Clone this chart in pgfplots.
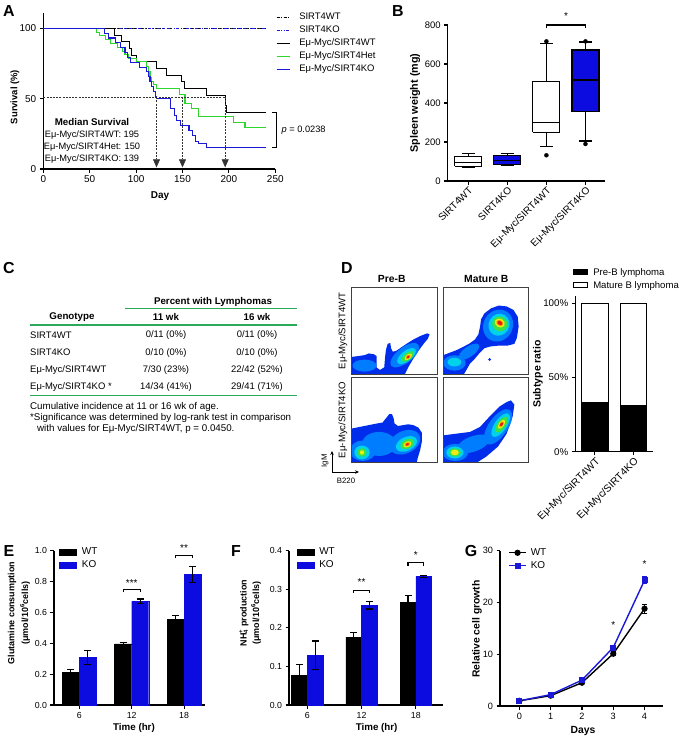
\documentclass[border=0pt]{standalone}
\usepackage{fontspec}
\setmainfont{Liberation Sans}
\usepackage{pgfplots}
\pgfplotsset{compat=1.18}
\usetikzlibrary{arrows.meta}
\definecolor{kob}{RGB}{12,12,225}
\definecolor{kol}{RGB}{25,25,215}
\definecolor{hetg}{RGB}{45,215,45}
\definecolor{tgreen}{RGB}{40,170,90}
\definecolor{c1}{RGB}{0,45,235}
\definecolor{c2}{RGB}{0,125,255}
\definecolor{c3}{RGB}{0,210,235}
\definecolor{c4}{RGB}{60,225,70}
\definecolor{c5}{RGB}{240,235,20}
\definecolor{c6}{RGB}{250,140,0}
\definecolor{c7}{RGB}{230,25,20}
\newcommand\fz[1]{\fontsize{#1}{#1}\selectfont}
\newcommand\fs{\fz{9}}
\newcommand\pl{\fontsize{16}{16}\selectfont\bfseries}
\newcommand\blob[5]{\fill[#1] (axis cs:#2) ellipse [x radius=#3bp, y radius=#4bp, rotate=#5];}
\pgfplotsset{
 gp/.style={scale only axis, axis x line*=bottom, axis y line*=left, tick align=outside,
   major tick length=3.5bp, axis line style={line width=1.1bp, black},
   tick style={line width=1.1bp, black}, tick label style={font=\fs},
   /pgf/number format/assume math mode=true, anchor=south west, clip=false},
 flow/.style={scale only axis, width=85.6bp, xmin=0, xmax=100, ymin=0, ymax=100,
   xtick=\empty, ytick=\empty, axis line style={line width=1.1bp, black!75},
   anchor=south west, axis on top, clip=true},
 bleg/.style={legend style={draw=none, fill=none, inner sep=0pt, font=\fz{10}, row sep=1.5bp,
   nodes={inner sep=1bp, text height=7.5bp, text depth=2bp},
   /tikz/every odd column/.append style={column sep=4bp}}, legend cell align=left,
   legend image code/.code={\draw[##1] (0bp,-2.8bp) rectangle (17bp,2.8bp);}},
 bx/.style={line width=1.1bp, black, forget plot},
}
\begin{document}
\begin{tikzpicture}
\useasboundingbox (0bp,0bp) rectangle (683bp,-739bp);

% ---------------- A
\begin{axis}[gp, at={(43.3bp,-169bp)}, width=232bp, height=156bp,
  tick label style={font=\fz{10}},
  xmin=0, xmax=250, ymin=0, ymax=110.9, xtick={0,50,...,250}, ytick={0,50,100},
  legend style={at={(1.003,1.01)}, anchor=north west, draw=none, fill=none, inner sep=0pt,
   font=\fz{9.5}, row sep=2bp, nodes={inner sep=1bp, text height=7bp, text depth=2bp},
   /tikz/every odd column/.append style={column sep=8bp}},
  legend cell align=left,
  legend image code/.code={\draw[#1] (0bp,0bp) -- (13bp,0bp);}]
\addplot[black, line width=1.1bp, dash pattern=on 3bp off 1.5bp on 1bp off 1.5bp] coordinates {(0,100) (240,100)};
\addlegendentry{SIRT4WT}
\addplot[kol, line width=1.1bp, dash pattern=on 3bp off 1.5bp on 1bp off 1.5bp on 1bp off 1.5bp] coordinates {(0,100) (240,100)};
\addlegendentry{SIRT4KO}
\addplot[black, line width=1.1bp, const plot] coordinates {(0,100) (77,95.2) (84,90.5) (93,85.7) (95,81) (100.5,76.2) (122,71.4) (133,66.7) (149,61.9) (152,57.1) (176,52.4) (196,45.2) (197.5,40) (240,40)};
\addlegendentry{Eμ-Myc/SIRT4WT}
\addplot[hetg, line width=1.1bp, const plot] coordinates {(0,100) (57.5,97.3) (61,94.6) (67,91.9) (72,89.2) (80,86.5) (85,83.8) (88,81.1) (92,78.4) (100,76.4) (111,72.8) (113,69.3) (115,65.2) (117,62.2) (119,59.8) (122,57.4) (147,52.7) (152.7,46.8) (159.8,43) (167,37.2) (204.7,33) (217.3,29.8) (240,29.8)};
\addlegendentry{Eμ-Myc/SIRT4Het}
\addplot[kol, line width=1.1bp, const plot] coordinates {(0,100) (66,96.6) (70,93.1) (78,89.7) (83,86.2) (88,82.8) (91,79.3) (94,75.9) (104,72.4) (111,69) (113,65.5) (115,62.1) (117,58.6) (119,55.2) (121,51.7) (122,50) (137,43.1) (141,37.9) (144,34.5) (148,31) (157,27.6) (161,24.1) (164,19.5) (167,18.4) (176,15) (240,15)};
\addlegendentry{Eμ-Myc/SIRT4KO}
\addplot[black!80, line width=0.5bp, dash pattern=on 2bp off 1.2bp, forget plot] coordinates {(0,51) (196,51)};
\addplot[black!80, line width=0.5bp, dash pattern=on 2bp off 1.2bp, -{Triangle[width=7bp,length=8bp]}, forget plot] coordinates {(122,51) (122,1.2)};
\addplot[black!80, line width=0.5bp, dash pattern=on 2bp off 1.2bp, -{Triangle[width=7bp,length=8bp]}, forget plot] coordinates {(150,51) (150,1.2)};
\addplot[black!80, line width=0.5bp, dash pattern=on 2bp off 1.2bp, -{Triangle[width=7bp,length=8bp]}, forget plot] coordinates {(196,51) (196,1.2)};
\draw[line width=1.1bp] (axis cs:246,40) -- (axis cs:251.5,40) -- (axis cs:251.5,15) -- (axis cs:246,15);
\node[anchor=west, font=\fz{9.3}] at (axis cs:253,27.7) {\textit{p} = 0.0238};
\node[font=\fz{9.8}\bfseries] at (axis cs:52.5,33.4) {Median Survival};
\node[font=\fz{9.3}] at (axis cs:52.5,24.2) {Eμ-Myc/SIRT4WT: 195};
\node[font=\fz{9.3}] at (axis cs:52.5,15.6) {Eμ-Myc/SIRT4Het: 150};
\node[font=\fz{9.3}] at (axis cs:52.5,7.1) {Eμ-Myc/SIRT4KO: 139};
\end{axis}

% ---------------- B
\begin{axis}[gp, at={(447.7bp,-181bp)}, width=157.3bp, height=156bp,
  tick label style={font=\fz{9.5}},
  xmin=-0.526, xmax=3.5, ymin=0, ymax=800, ytick={0,200,...,800},
  xtick={0,1,2,3}, xticklabels={SIRT4WT,SIRT4KO,Eμ-Myc/SIRT4WT,Eμ-Myc/SIRT4KO},
  x tick label style={rotate=45, anchor=north east, inner sep=1bp, font=\fz{10}}]
\addplot[bx] coordinates {(0,127) (0,139)};
\addplot[bx] coordinates {(0,76) (0,70)};
\addplot[bx] coordinates {(-0.17,139) (0.17,139)};
\addplot[bx] coordinates {(-0.17,70) (0.17,70)};
\addplot[bx, fill=white] coordinates {(-0.345,76) (0.345,76) (0.345,127) (-0.345,127) (-0.345,76)};
\addplot[bx] coordinates {(-0.345,93) (0.345,93)};
\addplot[bx] coordinates {(1,131) (1,139)};
\addplot[bx] coordinates {(1,84) (1,80)};
\addplot[bx] coordinates {(0.83,139) (1.17,139)};
\addplot[bx] coordinates {(0.83,80) (1.17,80)};
\addplot[bx, fill=kob] coordinates {(0.655,84) (1.345,84) (1.345,131) (0.655,131) (0.655,84)};
\addplot[bx] coordinates {(0.655,107) (1.345,107)};
\addplot[bx] coordinates {(2,511) (2,706)};
\addplot[bx] coordinates {(2,250) (2,179)};
\addplot[bx] coordinates {(1.83,706) (2.17,706)};
\addplot[bx] coordinates {(1.83,179) (2.17,179)};
\addplot[bx, fill=white] coordinates {(1.655,250) (2.345,250) (2.345,511) (1.655,511) (1.655,250)};
\addplot[bx] coordinates {(1.655,299) (2.345,299)};
\addplot[bx] coordinates {(3,672) (3,713)};
\addplot[bx] coordinates {(3,356) (3,205)};
\addplot[bx] coordinates {(2.83,713) (3.17,713)};
\addplot[bx] coordinates {(2.83,205) (3.17,205)};
\addplot[bx, fill=kob] coordinates {(2.655,356) (3.345,356) (3.345,672) (2.655,672) (2.655,356)};
\addplot[bx] coordinates {(2.655,518) (3.345,518)};
\addplot[only marks, mark=*, mark size=2bp, black] coordinates {(2,716) (2,132) (3,716) (3,190)};
\draw[line width=1.1bp] (axis cs:2,783) -- (axis cs:2,800) -- (axis cs:3,800) -- (axis cs:3,783);
\node[font=\fz{10}] at (axis cs:2.5,845) {*};
\end{axis}

% ---------------- D flow plots
\begin{axis}[flow, at={(351.7bp,-374.3bp)}, height=87bp]
\addplot[fill=c1, draw=none] coordinates {(0,0) (0,20) (8,21) (15,22) (20,24) (26,23) (29,21) (29,8) (33,5) (38,8) (39,20) (40,28) (42,35) (45,36) (46,30) (48,26) (52,27) (58,31) (64,35) (72,40) (80,44) (88,47) (91,46) (89,41) (84,35) (78,27) (72,18) (66,8) (62,0)};
\blob{c2}{15,10}{12}{6}{0}
\blob{c2}{62,22}{17.2}{7.7}{38}
\blob{c3}{64,21}{11.2}{5.2}{38}
\blob{c4}{65.5,20.5}{7.3}{3.6}{38}
\blob{c5}{66,20}{4.3}{2.4}{38}
\blob{c6}{66,20}{2.6}{1.7}{38}
\blob{c7}{66,20}{1.6}{1.1}{38}
\end{axis}
\begin{axis}[flow, at={(443.3bp,-374.3bp)}, height=87bp]
\addplot[fill=c1, draw=none] coordinates {(0,0) (0,22) (8,25) (16,28) (24,32) (30,35) (37,40) (41,46) (43,55) (44,63) (48,70) (56,76) (65,79) (74,78) (82,74) (87,66) (88,55) (86,42) (83,35) (75,33) (65,33) (55,32) (48,30) (42,24) (36,17) (31,12) (27,5) (24,0)};
\blob{c1}{54,17}{1.5}{1.5}{0}
\blob{c2}{13,13}{11.2}{7.7}{0}
\blob{c3}{13,14}{6.9}{4.3}{0}
\blob{c2}{30,26}{12}{5.2}{35}
\blob{c2}{64,56}{16.3}{14.6}{60}
\blob{c3}{65,57}{11.2}{10.3}{60}
\blob{c4}{66,58}{7.3}{7.7}{60}
\blob{c5}{66,59}{4.3}{5.2}{60}
\blob{c6}{66,59}{2.8}{3.6}{60}
\blob{c7}{66,59}{1.8}{2.6}{60}
\end{axis}
\begin{axis}[flow, at={(351.7bp,-462.7bp)}, height=85.4bp]
\addplot[fill=c1, draw=none] coordinates {(0,0) (0,40) (10,42) (20,44) (30,46) (36,47) (40,52) (44,57) (47,57) (49,52) (50,46) (54,43) (60,44) (66,45) (72,44) (78,41) (82,35) (82,25) (80,15) (77,5) (76,0)};
\blob{c2}{32,22}{17}{12}{0}
\blob{c2}{13,14}{12.9}{10.3}{0}
\blob{c3}{12,12}{7.7}{6.9}{0}
\blob{c4}{12,12}{4.7}{4.3}{0}
\blob{c5}{12,12}{2.2}{2.2}{0}
\blob{c2}{62,24}{16.3}{11.2}{25}
\blob{c3}{64,22}{11.2}{6.9}{25}
\blob{c4}{65,22}{7.3}{4.5}{25}
\blob{c5}{65,21.5}{4.3}{2.8}{25}
\blob{c6}{65,21.5}{2.8}{1.9}{25}
\blob{c7}{65,21.5}{1.8}{1.3}{25}
\end{axis}
\begin{axis}[flow, at={(443.3bp,-462.7bp)}, height=85.4bp]
\addplot[fill=c1, draw=none] coordinates {(0,0) (0,32) (15,34) (31,36) (43,42) (54,54) (66,66) (74,71) (79,73) (83,68) (81,54) (74,34) (64,19) (50,7) (39,0)};
\blob{c2}{35,22}{17}{7.7}{20}
\blob{c2}{14,12}{12.9}{8.6}{0}
\blob{c3}{13.5,12}{8.6}{6}{0}
\blob{c4}{13.5,12}{6}{4.1}{0}
\blob{c5}{13.5,12}{3.9}{2.8}{0}
\blob{c2}{64,42}{20.6}{9.5}{55}
\blob{c3}{67,44}{13.8}{6}{55}
\blob{c4}{68,44.5}{9}{4.1}{55}
\blob{c5}{68,45}{5.2}{2.6}{55}
\blob{c6}{68,45}{3.2}{1.8}{55}
\blob{c7}{68,45}{2}{1.2}{55}
\end{axis}

% ---------------- D subtype bars
\begin{axis}[gp, at={(575.3bp,-451.7bp)}, width=77.7bp, height=155.8bp,
  tick label style={font=\fz{9.8}},
  xmin=-0.51, xmax=1.51, ymin=0, ymax=105, ytick={0,50,100}, yticklabels={0\%,50\%,100\%},
  xtick={0,1}, xticklabels={Eμ-Myc/SIRT4WT,Eμ-Myc/SIRT4KO},
  x tick label style={rotate=45, anchor=north east, inner sep=1bp, font=\fz{10.3}},
  ybar stacked, bar width=0.69, bleg,
  legend style={at={(-0.03,1.19)}, anchor=north west, font=\fz{9.6}},
  legend image code/.code={\draw[#1] (0bp,-2.6bp) rectangle (14bp,2.6bp);}]
\addplot[fill=black, draw=black, line width=1.1bp] coordinates {(0,33.3) (1,31.2)};
\addlegendentry{Pre-B lymphoma}
\addplot[fill=white, draw=black, line width=1.1bp] coordinates {(0,66.7) (1,68.8)};
\addlegendentry{Mature B lymphoma}
\end{axis}

% ---------------- E
\begin{axis}[gp, at={(54bp,-705bp)}, width=151bp, height=154.3bp,
  tick label style={font=\fz{8.8}},
  xmin=-0.484, xmax=2.40, ymin=0, ymax=1, ytick={0,0.2,0.4,0.6,0.8,1.0},
  yticklabel style={/pgf/number format/.cd, fixed, fixed zerofill, precision=1},
  xtick={0,1,2}, xticklabels={6,12,18}, ybar, bar width=0.325, bar shift=0pt,
  bleg, legend style={at={(0.035,1.03)}, anchor=north west},
  error bars/y dir=both, error bars/y explicit,
  error bars/error bar style={line width=1.1bp, black},
  error bars/error mark options={rotate=90, mark size=3.5bp, line width=1.1bp, black}]
\addplot[fill=black, draw=black] coordinates {(-0.1625,0.21) +- (0,0.022) (0.8375,0.396) +- (0,0.012) (1.8375,0.557) +- (0,0.022)};
\addlegendentry{WT}
\addplot[fill=kob, draw=kob] coordinates {(0.1625,0.31) +- (0,0.045) (1.1625,0.672) +- (0,0.015) (2.1625,0.845) +- (0,0.05)};
\addlegendentry{KO}
\draw[line width=1.1bp] (axis cs:0.8375,0.73) -- (axis cs:0.8375,0.75) -- (axis cs:1.1625,0.75) -- (axis cs:1.1625,0.73);
\node[font=\fz{10}] at (axis cs:1,0.79) {***};
\draw[line width=1.1bp] (axis cs:1.8375,0.95) -- (axis cs:1.8375,0.97) -- (axis cs:2.1625,0.97) -- (axis cs:2.1625,0.95);
\node[font=\fz{10}] at (axis cs:2,1.02) {**};
\end{axis}

% ---------------- F
\begin{axis}[gp, at={(289bp,-705bp)}, width=154bp, height=154.3bp,
  tick label style={font=\fz{8.8}},
  xmin=-0.338, xmax=2.50, ymin=0, ymax=0.4, ytick={0,0.1,0.2,0.3,0.4},
  yticklabel style={/pgf/number format/.cd, fixed, fixed zerofill, precision=1},
  xtick={0,1,2}, xticklabels={6,12,18}, ybar, bar width=0.29, bar shift=0pt,
  bleg, legend style={at={(0.05,1.03)}, anchor=north west},
  error bars/y dir=both, error bars/y explicit,
  error bars/error bar style={line width=1.1bp, black},
  error bars/error mark options={rotate=90, mark size=3.5bp, line width=1.1bp, black}]
\addplot[fill=black, draw=black] coordinates {(-0.145,0.076) +- (0,0.03) (0.855,0.176) +- (0,0.013) (1.855,0.266) +- (0,0.018)};
\addlegendentry{WT}
\addplot[fill=kob, draw=kob] coordinates {(0.145,0.129) +- (0,0.037) (1.145,0.259) +- (0,0.01) (2.145,0.333) +- (0,0.003)};
\addlegendentry{KO}
\draw[line width=1.1bp] (axis cs:0.855,0.29) -- (axis cs:0.855,0.298) -- (axis cs:1.145,0.298) -- (axis cs:1.145,0.29);
\node[font=\fz{10}] at (axis cs:1,0.318) {**};
\draw[line width=1.1bp] (axis cs:1.855,0.361) -- (axis cs:1.855,0.369) -- (axis cs:2.145,0.369) -- (axis cs:2.145,0.361);
\node[font=\fz{10}] at (axis cs:2,0.389) {*};
\end{axis}

% ---------------- G
\begin{axis}[gp, at={(500bp,-706bp)}, width=163.3bp, height=155.3bp,
  tick label style={font=\fz{9.2}},
  xmin=-0.62, xmax=4.6, ymin=0, ymax=30, xtick={0,1,2,3,4}, ytick={0,10,20,30},
  legend style={at={(0.05,1.025)}, anchor=north west, draw=none, fill=none, inner sep=0pt,
   font=\fz{10}, row sep=1.5bp, nodes={inner sep=1bp, text height=7.5bp, text depth=2bp},
   /tikz/every odd column/.append style={column sep=3bp}},
  legend cell align=left,
  legend image code/.code={\draw[mark repeat=2, mark phase=2, #1] plot coordinates {(0bp,0bp) (8.5bp,0bp) (17bp,0bp)};},
  error bars/y dir=both, error bars/y explicit,
  error bars/error bar style={line width=1bp},
  error bars/error mark options={rotate=90, mark size=2.5bp, line width=1bp}]
\addplot[black, line width=1.4bp, mark=*, mark size=2.4bp] coordinates {(0,1) +- (0,0.1) (1,2.0) +- (0,0.2) (2,4.5) +- (0,0.25) (3,10.1) +- (0,0.35) (4,18.8) +- (0,0.9)};
\addlegendentry{WT}
\addplot[kol, line width=1.4bp, mark=square*, mark size=2.3bp] coordinates {(0,1) +- (0,0.1) (1,2.2) +- (0,0.2) (2,5.0) +- (0,0.25) (3,11.3) +- (0,0.35) (4,24.3) +- (0,0.7)};
\addlegendentry{KO}
\node[font=\fz{10}] at (axis cs:3,15.6) {*};
\node[font=\fz{10}] at (axis cs:4,27.5) {*};
\end{axis}

% ---------------- text
\begin{scope}[x=1bp,y=-1bp]
\node[font=\pl] at (9,11) {A};
\node[font=\pl] at (398,11) {B};
\node[font=\pl] at (9,268) {C};
\node[font=\pl] at (347,268) {D};
\node[font=\pl] at (9,551) {E};
\node[font=\pl] at (236,551) {F};
\node[font=\pl] at (471,551) {G};
\node[font=\fz{9.5}\bfseries, rotate=90] at (15,97) {Survival (\%)};
\node[font=\fz{10}\bfseries] at (160,196) {Day};
\node[font=\fz{10.8}\bfseries, rotate=90] at (415,103) {Spleen weight (mg)};
% C table
\node[font=\fz{9.8}\bfseries] at (213,302) {Percent with Lymphomas};
\draw[tgreen, line width=1.2bp] (125,308.5) -- (297,308.5);
\node[font=\fz{9.8}\bfseries] at (72,317) {Genotype};
\node[font=\fz{9.8}\bfseries] at (166,317) {11 wk};
\node[font=\fz{9.8}\bfseries] at (257,317) {16 wk};
\draw[tgreen, line width=1.2bp] (30,325) -- (297,325);
\node[font=\fz{9.5}, anchor=west, inner sep=0pt] at (30,335) {SIRT4WT};
\node[font=\fz{9.5}] at (166,335) {0/11 (0\%)};
\node[font=\fz{9.5}] at (257,335) {0/11 (0\%)};
\node[font=\fz{9.5}, anchor=west, inner sep=0pt] at (30,352.7) {SIRT4KO};
\node[font=\fz{9.5}] at (166,352.7) {0/10 (0\%)};
\node[font=\fz{9.5}] at (257,352.7) {0/10 (0\%)};
\node[font=\fz{9.5}, anchor=west, inner sep=0pt] at (30,370) {Eμ-Myc/SIRT4WT};
\node[font=\fz{9.5}] at (166,370) {7/30 (23\%)};
\node[font=\fz{9.5}] at (257,370) {22/42 (52\%)};
\node[font=\fz{9.5}, anchor=west, inner sep=0pt] at (30,387) {Eμ-Myc/SIRT4KO *};
\node[font=\fz{9.5}] at (166,387) {14/34 (41\%)};
\node[font=\fz{9.5}] at (257,387) {29/41 (71\%)};
\draw[tgreen, line width=1.2bp] (30,395.5) -- (297,395.5);
\node[font=\fz{9.8}, anchor=west, inner sep=0pt] at (30,406.7) {Cumulative incidence at 11 or 16 wk of age.};
\node[font=\fz{9.8}, anchor=west, inner sep=0pt] at (30,417.7) {*Significance was determined by log-rank test in comparison};
\node[font=\fz{9.8}, anchor=west, inner sep=0pt] at (37,428.7) {with values for Eμ-Myc/SIRT4WT, p = 0.0450.};
% D labels
\node[font=\fz{10.4}\bfseries] at (391.7,279.3) {Pre-B};
\node[font=\fz{10.4}\bfseries] at (486.3,279.3) {Mature B};
\node[font=\fz{9.6}, rotate=90] at (343,330.8) {Eμ-Myc/SIRT4WT};
\node[font=\fz{9.6}, rotate=90] at (343,420) {Eμ-Myc/SIRT4KO};
\draw[line width=0.9bp, -{Stealth[length=4bp,width=3.5bp]}] (332,472) -- (332,451);
\draw[line width=0.9bp, -{Stealth[length=4bp,width=3.5bp]}] (332,472) -- (359,472);
\node[font=\fz{7.8}, rotate=90] at (325,461) {IgM};
\node[font=\fz{7.8}] at (346,481) {B220};
\node[font=\fz{10.5}\bfseries, rotate=90] at (538,374) {Subtype ratio};
% E F G labels
\node[font=\fz{9}\bfseries, rotate=90] at (12,613) {Glutamine consumption};
\node[font=\fz{9}\bfseries, rotate=90] at (25,613) {(μmol/10\textsuperscript{6}cells)};
\node[font=\fz{9}\bfseries, rotate=90] at (244,613) {NH\rlap{\textsuperscript{+}}\textsubscript{4} production};
\node[font=\fz{9}\bfseries, rotate=90] at (256,613) {(μmol/10\textsuperscript{6}cells)};
\node[font=\fz{9.8}\bfseries] at (134,728) {Time (hr)};
\node[font=\fz{9.8}\bfseries] at (376.7,728) {Time (hr)};
\node[font=\fz{10.4}\bfseries, rotate=90] at (477,629) {Relative cell growth};
\node[font=\fz{10.4}\bfseries] at (583,731) {Days};
\end{scope}
\end{tikzpicture}
\end{document}
